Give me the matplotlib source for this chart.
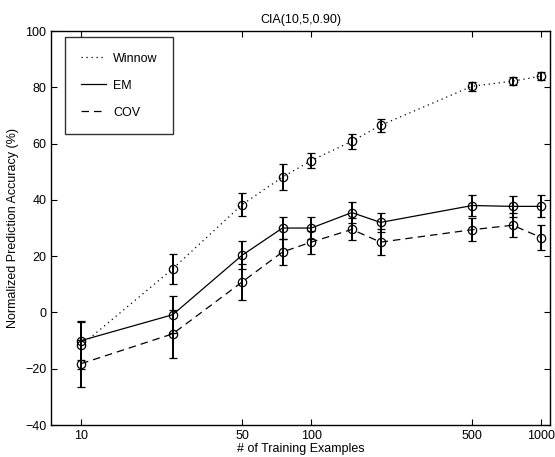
import numpy as np
import matplotlib
matplotlib.use('Agg')
import matplotlib.pyplot as plt
from matplotlib.lines import Line2D

plt.rcParams['font.family'] = ['Liberation Sans', 'DejaVu Sans']

n_train = [10, 25, 50, 75, 100, 150, 200, 500, 750, 1000]

winnow = [-11.7, 15.5, 38.3, 48.1, 54.0, 60.8, 66.5, 80.4, 82.2, 84.0]
winnow_err = [8.3, 5.3, 4.1, 4.6, 2.8, 2.6, 2.4, 1.6, 1.4, 1.4]

em = [-10.0, -0.8, 20.3, 30.0, 30.0, 35.5, 32.0, 38.0, 37.7, 37.7]
em_err = [7.0, 6.5, 5.0, 4.0, 4.0, 3.8, 3.3, 3.7, 3.7, 3.9]

cov = [-18.2, -7.6, 10.8, 21.5, 25.0, 29.5, 25.0, 29.4, 31.0, 26.6]
cov_err = [8.3, 8.5, 6.4, 4.5, 4.1, 3.9, 4.5, 4.0, 4.2, 4.4]

fig = plt.figure(figsize=(5.55, 4.57), dpi=100)
ax = fig.add_axes([0.092, 0.070, 0.899, 0.862])

# line style + dash pattern per method
styles = [(winnow, winnow_err, (0, (1, 3)), 'Winnow'),
          (em, em_err, '-', 'EM'),
          (cov, cov_err, (0, (6, 4)), 'COV')]
for y, e, ls, lab in styles:
    ax.errorbar(n_train, y, yerr=e, color='black', ls=ls, lw=0.9,
                marker='o', mfc='none', mec='black', ms=6, mew=0.9,
                capsize=3, elinewidth=1.4, capthick=1.4)

ax.set_xscale('log')
ax.set_xlim(7.4, 1090)
ax.set_ylim(-40, 100)
ax.set_xticks([10, 50, 100, 500, 1000])
ax.set_xticklabels(['10', '50', '100', '500', '1000'])
ax.xaxis.set_minor_locator(matplotlib.ticker.NullLocator())
ax.set_yticks([-40, -20, 0, 20, 40, 60, 80, 100])
ax.tick_params(direction='in', top=True, right=True, labelsize=9, length=4)
for s in ax.spines.values():
    s.set_linewidth(1.0)

ax.set_title('CIA(10,5,0.90)', fontsize=9, pad=6)
ax.set_xlabel('# of Training Examples', fontsize=9, labelpad=1)
ax.set_ylabel('Normalized Prediction Accuracy (%)', fontsize=9, labelpad=4)

handles = [Line2D([], [], color='black', ls=ls, lw=0.9) for _, _, ls, _ in styles]
leg = ax.legend(handles, [s[3] for s in styles], loc='upper left',
                bbox_to_anchor=(0.028, 0.985), fontsize=9, frameon=True,
                fancybox=False, edgecolor='black', handlelength=2.0,
                labelspacing=1.2, borderpad=1.25, handletextpad=0.6,
                borderaxespad=0)
leg.get_frame().set_linewidth(1.0)

fig.savefig('out.png', dpi=100)
